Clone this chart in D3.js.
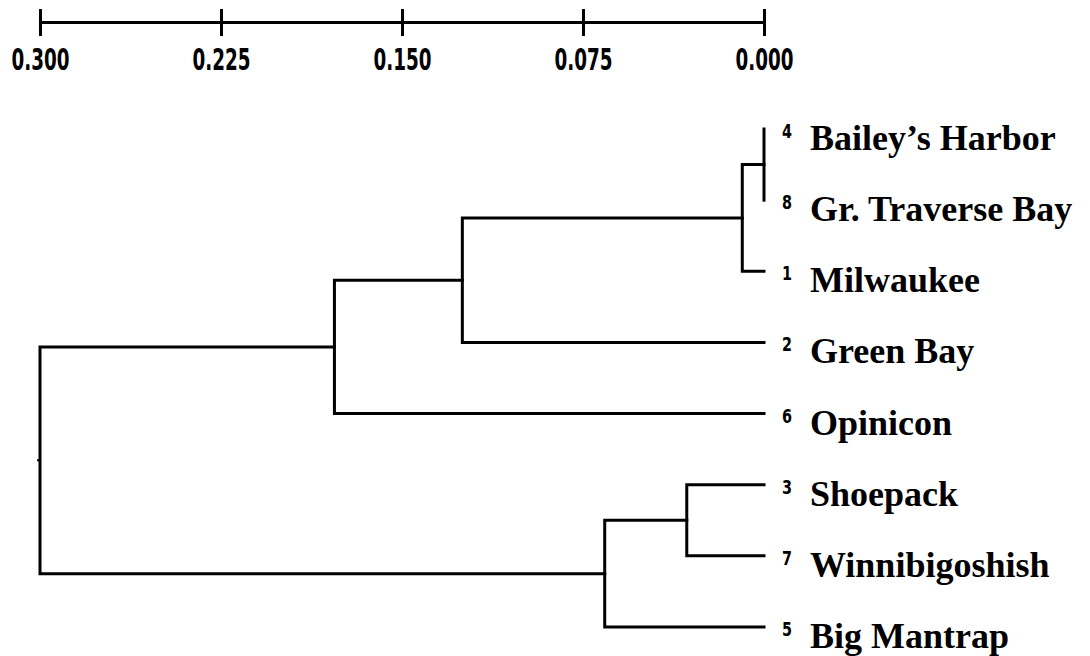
<!DOCTYPE html>
<html>
<head>
<meta charset="utf-8">
<script src="https://cdn.jsdelivr.net/npm/d3@7"></script>
<style>
  body { margin: 0; background: #fff; }
  .axis text, .leafNum { font-family: "DejaVu Sans", "Liberation Sans", sans-serif; font-stretch: condensed; font-weight: bold; }
  .leafName { font-family: "Liberation Serif", "Times New Roman", serif; font-weight: bold; }
</style>
</head>
<body>
<div id="chart"></div>
<script>
// distance scale ticks
var tickValues = [0.300, 0.225, 0.150, 0.075, 0.000];

// leaves top to bottom
var leafIds = ["4", "8", "1", "2", "6", "3", "7", "5"];
var leafNames = ["Bailey\u2019s Harbor", "Gr. Traverse Bay", "Milwaukee", "Green Bay",
  "Opinicon", "Shoepack", "Winnibigoshish", "Big Mantrap"];

// joins: children are leaf ids or earlier joins (m0, m1 ...)
var mergeLeft = ["4", "m0", "m1", "m2", "3", "m4", "m3"];
var mergeRight = ["8", "1", "2", "6", "7", "5", "m5"];
var mergeHeight = [0.000, 0.009, 0.125, 0.178, 0.032, 0.066, 0.300];

var svgWidth = 1090;
var svgHeight = 656;

var svg = d3.select("#chart").append("svg")
  .attr("width", svgWidth)
  .attr("height", svgHeight)
  .style("background", "#fff");

var xScale = d3.scaleLinear()
  .domain([0.3, 0])
  .range([40, 764]);

var yScale = d3.scalePoint()
  .domain(leafIds)
  .range([129, 627]);

// axis at the top
var axisY = 22;
var xAxis = d3.axisBottom(xScale)
  .tickValues(tickValues)
  .tickFormat(d3.format(".3f"))
  .tickSizeOuter(0)
  .tickSize(14)
  .tickPadding(0);

var axisG = svg.append("g")
  .attr("class", "axis")
  .attr("transform", `translate(0, ${axisY})`)
  .call(xAxis);

axisG.select(".domain")
  .attr("stroke", "#000")
  .attr("stroke-width", 3);
axisG.selectAll(".tick line")
  .attr("y1", -13)
  .attr("y2", 14)
  .attr("stroke", "#000")
  .attr("stroke-width", 3);
axisG.selectAll(".tick text")
  .attr("y", 48)
  .attr("dy", null)
  .attr("fill", "#000")
  .attr("textLength", 58)
  .attr("lengthAdjust", "spacingAndGlyphs")
  .style("font-size", "30px");

// node positions
var nodes = {};
leafIds.forEach(function (id) {
  nodes[id] = { x: xScale(0), y: yScale(id) };
});
mergeHeight.forEach(function (h, i) {
  var a = nodes[mergeLeft[i]], b = nodes[mergeRight[i]];
  nodes["m" + i] = { x: xScale(h), y: (a.y + b.y) / 2, a: a, b: b };
});

var tree = svg.append("g");

tree.selectAll("path.join")
  .data(mergeHeight.map((h, i) => nodes["m" + i]))
  .enter()
  .append("path")
  .attr("class", "join")
  .attr("fill", "none")
  .attr("stroke", "#000")
  .attr("stroke-width", 3)
  .attr("stroke-linecap", "square")
  .attr("d", d => `M${d.a.x},${d.a.y}H${d.x}V${d.b.y}H${d.b.x}`);

// little stub at the root
var root = nodes["m" + (mergeHeight.length - 1)];
tree.append("path")
  .attr("fill", "none")
  .attr("stroke", "#000")
  .attr("stroke-width", 2)
  .attr("d", `M${root.x - 3},${root.y}H${root.x}`);

// leaf numbers and names
svg.selectAll("text.leafNum")
  .data(leafIds)
  .enter()
  .append("text")
  .attr("class", "leafNum")
  .attr("x", 782)
  .attr("y", d => yScale(d) + 9)
  .attr("textLength", 10)
  .attr("lengthAdjust", "spacingAndGlyphs")
  .style("font-size", "19px")
  .text(d => d);

svg.selectAll("text.leafName")
  .data(leafNames)
  .enter()
  .append("text")
  .attr("class", "leafName")
  .attr("x", 810)
  .attr("y", (d, i) => yScale(leafIds[i]) + 21)
  .style("font-size", "36px")
  .text(d => d);
</script>
</body>
</html>
